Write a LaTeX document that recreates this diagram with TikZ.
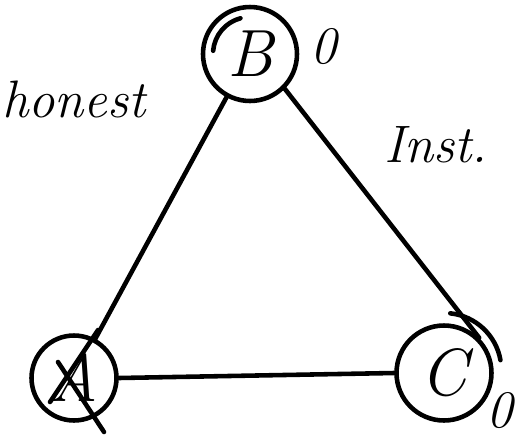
\documentclass[tikz,border=0pt]{standalone}
\usetikzlibrary{positioning}
\begin{document}
\begin{tikzpicture}[x=0.02cm, y=-0.02cm,
  party/.style={circle, draw, line width=2.6pt, inner sep=0pt,
    minimum size=#1, font=\fontsize{38}{40}\selectfont\itshape},
  link/.style={line width=2.6pt, line cap=round},
  scrawl/.style={font=\fontsize{30}{32}\selectfont\itshape}]
\useasboundingbox (0,0) rectangle (521,437);

% parties
\node[party=1.88cm] (B) at (250,54) {B};
\node[party=1.7cm] (A) at (74,378) {A};
\node[party=1.9cm] (C) at (444,373) {C};

% channels
\draw[link] (B) -- (A);
\draw[link] (B.south east) -- (C.north east);
\draw[link] (A.east) -- (C.west);

% A is crossed out
\draw[link] ([shift={(24,-48)}]A.center) -- ([shift={(-24,24)}]A.center);
\draw[link] ([shift={(-16,-16)}]A.center) -- ([shift={(30,54)}]A.center);

% extra loops round B and C
\draw[link] ([shift={(185:37)}]B.center) arc (185:255:37);
\draw[link] ([shift={(276:60)}]C.center) arc (276:350:57);

% labels
\node[scrawl, anchor=base west] (zeroB) at (304,63) {0};
\node[scrawl, anchor=base east] (zeroC) at (519,427) {0};
\node[scrawl, anchor=base east] (honest) at (152,117) {honest};
\node[scrawl, anchor=base west] (inst) at (378,162) {Inst.};

\end{tikzpicture}
\end{document}
